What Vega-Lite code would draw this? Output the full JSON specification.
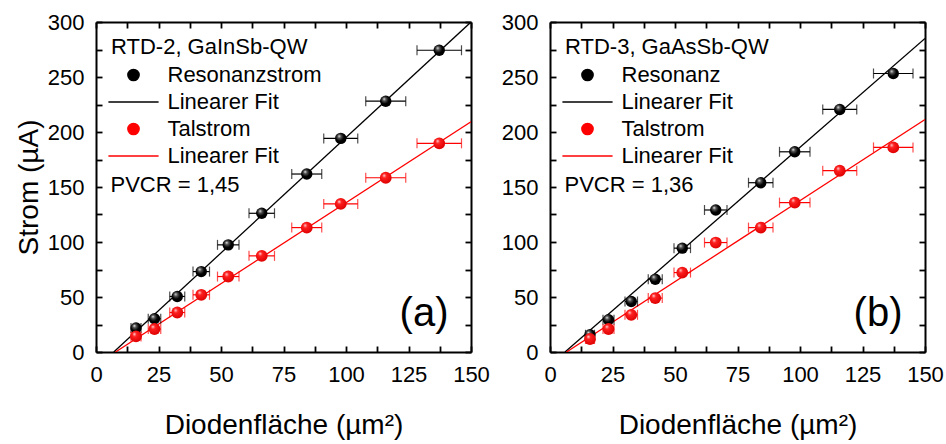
{
  "$schema": "https://vega.github.io/schema/vega-lite/v6.json",
  "padding": {"left": 15, "top": 11, "right": 5, "bottom": 5},
  "config": {
    "font": "Liberation Sans",
    "view": {"stroke": null},
    "axis": {
      "domainColor": "#000000", "domainWidth": 2,
      "tickColor": "#000000", "tickWidth": 1.8, "tickSize": -6,
      "labelFontSize": 22, "labelColor": "#000000",
      "labelFlush": false, "labelOverlap": false,
      "titleFontSize": 28, "titleFontWeight": "normal", "titleColor": "#000000",
      "grid": false
    },
    "axisX": {"labelPadding": 18, "titlePadding": 26},
    "axisY": {"labelPadding": 18, "titlePadding": 4},
    "legend": {
      "titleFontSize": 22, "titleFontWeight": "normal", "titleColor": "#000000", "titleLimit": 400,
      "labelFontSize": 22, "labelColor": "#000000", "labelLimit": 400,
      "padding": 0, "rowPadding": 5, "titlePadding": 5,
      "symbolOffset": 11.5, "labelOffset": 23, "symbolSize": 130
    }
  },
  "datasets": {
    "points": [
      {"panel": "a", "series": "Resonanzstrom", "x": 16.0, "xerr": 2.0, "y": 21.8},
      {"panel": "a", "series": "Resonanzstrom", "x": 23.4, "xerr": 2.5, "y": 30.2},
      {"panel": "a", "series": "Resonanzstrom", "x": 32.5, "xerr": 3.0, "y": 50.5},
      {"panel": "a", "series": "Resonanzstrom", "x": 42.1, "xerr": 3.3, "y": 73.1},
      {"panel": "a", "series": "Resonanzstrom", "x": 52.9, "xerr": 4.3, "y": 97.4},
      {"panel": "a", "series": "Resonanzstrom", "x": 66.3, "xerr": 5.1, "y": 126.1},
      {"panel": "a", "series": "Resonanzstrom", "x": 84.3, "xerr": 6.0, "y": 161.8},
      {"panel": "a", "series": "Resonanzstrom", "x": 97.9, "xerr": 6.8, "y": 194.2},
      {"panel": "a", "series": "Resonanzstrom", "x": 115.9, "xerr": 8.0, "y": 228.0},
      {"panel": "a", "series": "Resonanzstrom", "x": 137.3, "xerr": 8.9, "y": 274.3},
      {"panel": "a", "series": "Talstrom", "x": 16.0, "xerr": 2.0, "y": 14.2},
      {"panel": "a", "series": "Talstrom", "x": 23.4, "xerr": 2.5, "y": 20.9},
      {"panel": "a", "series": "Talstrom", "x": 32.5, "xerr": 3.0, "y": 35.9},
      {"panel": "a", "series": "Talstrom", "x": 42.1, "xerr": 3.3, "y": 52.0},
      {"panel": "a", "series": "Talstrom", "x": 52.9, "xerr": 4.3, "y": 68.6},
      {"panel": "a", "series": "Talstrom", "x": 66.3, "xerr": 5.1, "y": 87.4},
      {"panel": "a", "series": "Talstrom", "x": 84.3, "xerr": 6.0, "y": 113.1},
      {"panel": "a", "series": "Talstrom", "x": 97.9, "xerr": 6.8, "y": 134.6},
      {"panel": "a", "series": "Talstrom", "x": 115.9, "xerr": 8.0, "y": 158.4},
      {"panel": "a", "series": "Talstrom", "x": 137.3, "xerr": 8.9, "y": 189.7},
      {"panel": "b", "series": "Resonanz", "x": 16.0, "xerr": 1.8, "y": 15.7},
      {"panel": "b", "series": "Resonanz", "x": 23.4, "xerr": 2.2, "y": 29.3},
      {"panel": "b", "series": "Resonanz", "x": 32.5, "xerr": 2.5, "y": 45.9},
      {"panel": "b", "series": "Resonanz", "x": 42.1, "xerr": 2.8, "y": 66.2},
      {"panel": "b", "series": "Resonanz", "x": 52.9, "xerr": 3.3, "y": 94.4},
      {"panel": "b", "series": "Resonanz", "x": 66.3, "xerr": 4.5, "y": 129.1},
      {"panel": "b", "series": "Resonanz", "x": 84.3, "xerr": 4.9, "y": 153.9},
      {"panel": "b", "series": "Resonanz", "x": 97.9, "xerr": 6.1, "y": 182.0},
      {"panel": "b", "series": "Resonanz", "x": 115.9, "xerr": 6.8, "y": 220.5},
      {"panel": "b", "series": "Resonanz", "x": 137.3, "xerr": 7.9, "y": 253.2},
      {"panel": "b", "series": "Talstrom", "x": 16.0, "xerr": 1.8, "y": 11.8},
      {"panel": "b", "series": "Talstrom", "x": 23.4, "xerr": 2.2, "y": 20.9},
      {"panel": "b", "series": "Talstrom", "x": 32.5, "xerr": 2.5, "y": 33.8},
      {"panel": "b", "series": "Talstrom", "x": 42.1, "xerr": 2.8, "y": 49.0},
      {"panel": "b", "series": "Talstrom", "x": 52.9, "xerr": 3.3, "y": 72.2},
      {"panel": "b", "series": "Talstrom", "x": 66.3, "xerr": 4.5, "y": 99.5},
      {"panel": "b", "series": "Talstrom", "x": 84.3, "xerr": 4.9, "y": 113.1},
      {"panel": "b", "series": "Talstrom", "x": 97.9, "xerr": 6.1, "y": 135.8},
      {"panel": "b", "series": "Talstrom", "x": 115.9, "xerr": 6.8, "y": 164.8},
      {"panel": "b", "series": "Talstrom", "x": 137.3, "xerr": 7.9, "y": 186.0}
    ],
    "fits": [
      {"panel": "a", "series": "Linearer Fit (Resonanz)", "x": 7.1, "y": 0},
      {"panel": "a", "series": "Linearer Fit (Resonanz)", "x": 150, "y": 300},
      {"panel": "a", "series": "Linearer Fit (Tal)", "x": 7.8, "y": 0},
      {"panel": "a", "series": "Linearer Fit (Tal)", "x": 150, "y": 209.3},
      {"panel": "b", "series": "Linearer Fit (Resonanz)", "x": 6.0, "y": 0},
      {"panel": "b", "series": "Linearer Fit (Resonanz)", "x": 150, "y": 285.0},
      {"panel": "b", "series": "Linearer Fit (Tal)", "x": 6.6, "y": 0},
      {"panel": "b", "series": "Linearer Fit (Tal)", "x": 150, "y": 211.4}
    ]
  },
  "resolve": {"scale": {"color": "independent"}},
  "spacing": 11,
  "hconcat": [
    {
      "width": 375, "height": 330,
      "resolve": {"axis": {"x": "independent", "y": "independent"}},
      "layer": [
        {
          "data": {"name": "fits"},
          "transform": [{"filter": "datum.panel === 'a'"}],
          "mark": {"type": "line", "clip": true, "strokeWidth": 1.3},
          "encoding": {
            "x": {"field": "x", "type": "quantitative", "scale": {"domain": [0, 150], "nice": false},
                  "axis": {"title": "Diodenfläche (µm²)",
                           "values": [0, 12.5, 25, 37.5, 50, 62.5, 75, 87.5, 100, 112.5, 125, 137.5, 150],
                           "labelExpr": "datum.value % 25 === 0 ? datum.label : ''"}},
            "y": {"field": "y", "type": "quantitative", "scale": {"domain": [0, 300], "nice": false},
                  "axis": {"title": "Strom (µA)",
                           "values": [0, 25, 50, 75, 100, 125, 150, 175, 200, 225, 250, 275, 300],
                           "labelExpr": "datum.value % 50 === 0 ? datum.label : ''"}},
            "color": {
              "field": "series", "type": "nominal",
              "scale": {"domain": ["Resonanzstrom", "Linearer Fit (Resonanz)", "Talstrom", "Linearer Fit (Tal)"],
                        "range": ["#000000", "#000000", "#ff0000", "#ff0000"]},
              "legend": {
                "title": "RTD-2, GaInSb-QW", "orient": "none", "legendX": 15, "legendY": 15,
                "labelExpr": "indexof(datum.label, 'Linearer Fit') === 0 ? 'Linearer Fit' : datum.label",
                "encode": {"symbols": {"update": {
                  "shape": {"signal": "indexof(datum.value, 'Linearer Fit') === 0 ? 'M-4.4,0H4.4' : 'circle'"},
                  "size": {"value": 130},
                  "strokeWidth": {"value": 1.3},
                  "fill": [
                    {"test": "indexof(datum.value, 'Linearer Fit') === 0", "value": "transparent"},
                    {"test": "datum.value === 'Talstrom'", "value": {"gradient": "radial", "x1": 0.35, "y1": 0.3, "r1": 0, "x2": 0.45, "y2": 0.42, "r2": 0.6, "stops": [{"offset": 0, "color": "#ffe0e0"}, {"offset": 0.3, "color": "#ff2020"}, {"offset": 1, "color": "#dd0000"}]}},
                    {"value": {"gradient": "radial", "x1": 0.35, "y1": 0.3, "r1": 0, "x2": 0.45, "y2": 0.42, "r2": 0.6, "stops": [{"offset": 0, "color": "#f0f0f0"}, {"offset": 0.25, "color": "#555555"}, {"offset": 0.6, "color": "#000000"}, {"offset": 1, "color": "#000000"}]}}
                  ],
                  "stroke": [
                    {"test": "indexof(datum.value, 'Linearer Fit') !== 0", "value": "transparent"},
                    {"test": "indexof(datum.value, 'Tal') >= 0", "value": "#ff0000"},
                    {"value": "#000000"}
                  ]
                }}}
              }
            }
          }
        },
        {
          "data": {"name": "points"},
          "transform": [{"filter": "datum.panel === 'a'"}],
          "mark": {"type": "errorbar", "ticks": {"size": 10}, "thickness": 1.2},
          "encoding": {
            "x": {"field": "x", "type": "quantitative", "scale": {"domain": [0, 150], "nice": false}, "axis": null},
            "xError": {"field": "xerr"},
            "y": {"field": "y", "type": "quantitative", "scale": {"domain": [0, 300], "nice": false}, "axis": null},
            "color": {"field": "series", "type": "nominal", "legend": null}
          }
        },
        {
          "data": {"name": "points"},
          "transform": [{"filter": "datum.panel === 'a' && datum.series === 'Resonanzstrom'"}],
          "mark": {"type": "point", "filled": true, "size": 130, "opacity": 1,
                   "fill": {"gradient": "radial", "x1": 0.35, "y1": 0.3, "r1": 0, "x2": 0.45, "y2": 0.42, "r2": 0.6, "stops": [{"offset": 0, "color": "#f0f0f0"}, {"offset": 0.25, "color": "#555555"}, {"offset": 0.6, "color": "#000000"}, {"offset": 1, "color": "#000000"}]}},
          "encoding": {
            "x": {"field": "x", "type": "quantitative", "scale": {"domain": [0, 150], "nice": false}, "axis": null},
            "y": {"field": "y", "type": "quantitative", "scale": {"domain": [0, 300], "nice": false}, "axis": null}
          }
        },
        {
          "data": {"name": "points"},
          "transform": [{"filter": "datum.panel === 'a' && datum.series === 'Talstrom'"}],
          "mark": {"type": "point", "filled": true, "size": 140, "opacity": 1,
                   "fill": {"gradient": "radial", "x1": 0.35, "y1": 0.3, "r1": 0, "x2": 0.45, "y2": 0.42, "r2": 0.6, "stops": [{"offset": 0, "color": "#ffe0e0"}, {"offset": 0.3, "color": "#ff2020"}, {"offset": 1, "color": "#dd0000"}]}},
          "encoding": {
            "x": {"field": "x", "type": "quantitative", "scale": {"domain": [0, 150], "nice": false}, "axis": null},
            "y": {"field": "y", "type": "quantitative", "scale": {"domain": [0, 300], "nice": false}, "axis": null}
          }
        },
        {
          "data": {"values": [{}]},
          "mark": {"type": "text", "align": "left", "baseline": "middle", "fontSize": 22, "color": "#000000"},
          "encoding": {
            "x": {"datum": 5.8, "type": "quantitative", "axis": null},
            "y": {"datum": 151.8, "type": "quantitative", "axis": null},
            "text": {"value": "PVCR = 1,45"}
          }
        },
        {
          "data": {"values": [{}]},
          "mark": {"type": "text", "align": "center", "baseline": "alphabetic", "fontSize": 40, "color": "#000000"},
          "encoding": {
            "x": {"datum": 131.2, "type": "quantitative", "axis": null},
            "y": {"datum": 23.9, "type": "quantitative", "axis": null},
            "text": {"value": "(a)"}
          }
        },
        {
          "data": {"name": "points"},
          "transform": [{"filter": "datum.panel === 'a'"}],
          "mark": {"type": "point", "opacity": 0},
          "encoding": {
            "x": {"field": "x", "type": "quantitative", "scale": {"domain": [0, 150], "nice": false},
                  "axis": {"orient": "top", "labels": false, "title": null,
                           "values": [0, 12.5, 25, 37.5, 50, 62.5, 75, 87.5, 100, 112.5, 125, 137.5, 150]}},
            "y": {"field": "y", "type": "quantitative", "scale": {"domain": [0, 300], "nice": false},
                  "axis": {"orient": "right", "labels": false, "title": null,
                           "values": [0, 25, 50, 75, 100, 125, 150, 175, 200, 225, 250, 275, 300]}}
          }
        }
      ]
    },
    {
      "width": 375, "height": 330,
      "resolve": {"axis": {"x": "independent", "y": "independent"}},
      "layer": [
        {
          "data": {"name": "fits"},
          "transform": [{"filter": "datum.panel === 'b'"}],
          "mark": {"type": "line", "clip": true, "strokeWidth": 1.3},
          "encoding": {
            "x": {"field": "x", "type": "quantitative", "scale": {"domain": [0, 150], "nice": false},
                  "axis": {"title": "Diodenfläche (µm²)",
                           "values": [0, 12.5, 25, 37.5, 50, 62.5, 75, 87.5, 100, 112.5, 125, 137.5, 150],
                           "labelExpr": "datum.value % 25 === 0 ? datum.label : ''"}},
            "y": {"field": "y", "type": "quantitative", "scale": {"domain": [0, 300], "nice": false},
                  "axis": {"title": null,
                           "values": [0, 25, 50, 75, 100, 125, 150, 175, 200, 225, 250, 275, 300],
                           "labelExpr": "datum.value % 50 === 0 ? datum.label : ''"}},
            "color": {
              "field": "series", "type": "nominal",
              "scale": {"domain": ["Resonanz", "Linearer Fit (Resonanz)", "Talstrom", "Linearer Fit (Tal)"],
                        "range": ["#000000", "#000000", "#ff0000", "#ff0000"]},
              "legend": {
                "title": "RTD-3, GaAsSb-QW", "orient": "none", "legendX": 15, "legendY": 15,
                "labelExpr": "indexof(datum.label, 'Linearer Fit') === 0 ? 'Linearer Fit' : datum.label",
                "encode": {"symbols": {"update": {
                  "shape": {"signal": "indexof(datum.value, 'Linearer Fit') === 0 ? 'M-4.4,0H4.4' : 'circle'"},
                  "size": {"value": 130},
                  "strokeWidth": {"value": 1.3},
                  "fill": [
                    {"test": "indexof(datum.value, 'Linearer Fit') === 0", "value": "transparent"},
                    {"test": "datum.value === 'Talstrom'", "value": {"gradient": "radial", "x1": 0.35, "y1": 0.3, "r1": 0, "x2": 0.45, "y2": 0.42, "r2": 0.6, "stops": [{"offset": 0, "color": "#ffe0e0"}, {"offset": 0.3, "color": "#ff2020"}, {"offset": 1, "color": "#dd0000"}]}},
                    {"value": {"gradient": "radial", "x1": 0.35, "y1": 0.3, "r1": 0, "x2": 0.45, "y2": 0.42, "r2": 0.6, "stops": [{"offset": 0, "color": "#f0f0f0"}, {"offset": 0.25, "color": "#555555"}, {"offset": 0.6, "color": "#000000"}, {"offset": 1, "color": "#000000"}]}}
                  ],
                  "stroke": [
                    {"test": "indexof(datum.value, 'Linearer Fit') !== 0", "value": "transparent"},
                    {"test": "indexof(datum.value, 'Tal') >= 0", "value": "#ff0000"},
                    {"value": "#000000"}
                  ]
                }}}
              }
            }
          }
        },
        {
          "data": {"name": "points"},
          "transform": [{"filter": "datum.panel === 'b'"}],
          "mark": {"type": "errorbar", "ticks": {"size": 10}, "thickness": 1.2},
          "encoding": {
            "x": {"field": "x", "type": "quantitative", "scale": {"domain": [0, 150], "nice": false}, "axis": null},
            "xError": {"field": "xerr"},
            "y": {"field": "y", "type": "quantitative", "scale": {"domain": [0, 300], "nice": false}, "axis": null},
            "color": {"field": "series", "type": "nominal", "legend": null}
          }
        },
        {
          "data": {"name": "points"},
          "transform": [{"filter": "datum.panel === 'b' && datum.series === 'Resonanz'"}],
          "mark": {"type": "point", "filled": true, "size": 130, "opacity": 1,
                   "fill": {"gradient": "radial", "x1": 0.35, "y1": 0.3, "r1": 0, "x2": 0.45, "y2": 0.42, "r2": 0.6, "stops": [{"offset": 0, "color": "#f0f0f0"}, {"offset": 0.25, "color": "#555555"}, {"offset": 0.6, "color": "#000000"}, {"offset": 1, "color": "#000000"}]}},
          "encoding": {
            "x": {"field": "x", "type": "quantitative", "scale": {"domain": [0, 150], "nice": false}, "axis": null},
            "y": {"field": "y", "type": "quantitative", "scale": {"domain": [0, 300], "nice": false}, "axis": null}
          }
        },
        {
          "data": {"name": "points"},
          "transform": [{"filter": "datum.panel === 'b' && datum.series === 'Talstrom'"}],
          "mark": {"type": "point", "filled": true, "size": 140, "opacity": 1,
                   "fill": {"gradient": "radial", "x1": 0.35, "y1": 0.3, "r1": 0, "x2": 0.45, "y2": 0.42, "r2": 0.6, "stops": [{"offset": 0, "color": "#ffe0e0"}, {"offset": 0.3, "color": "#ff2020"}, {"offset": 1, "color": "#dd0000"}]}},
          "encoding": {
            "x": {"field": "x", "type": "quantitative", "scale": {"domain": [0, 150], "nice": false}, "axis": null},
            "y": {"field": "y", "type": "quantitative", "scale": {"domain": [0, 300], "nice": false}, "axis": null}
          }
        },
        {
          "data": {"values": [{}]},
          "mark": {"type": "text", "align": "left", "baseline": "middle", "fontSize": 22, "color": "#000000"},
          "encoding": {
            "x": {"datum": 5.8, "type": "quantitative", "axis": null},
            "y": {"datum": 151.8, "type": "quantitative", "axis": null},
            "text": {"value": "PVCR = 1,36"}
          }
        },
        {
          "data": {"values": [{}]},
          "mark": {"type": "text", "align": "center", "baseline": "alphabetic", "fontSize": 40, "color": "#000000"},
          "encoding": {
            "x": {"datum": 131.2, "type": "quantitative", "axis": null},
            "y": {"datum": 23.9, "type": "quantitative", "axis": null},
            "text": {"value": "(b)"}
          }
        },
        {
          "data": {"name": "points"},
          "transform": [{"filter": "datum.panel === 'b'"}],
          "mark": {"type": "point", "opacity": 0},
          "encoding": {
            "x": {"field": "x", "type": "quantitative", "scale": {"domain": [0, 150], "nice": false},
                  "axis": {"orient": "top", "labels": false, "title": null,
                           "values": [0, 12.5, 25, 37.5, 50, 62.5, 75, 87.5, 100, 112.5, 125, 137.5, 150]}},
            "y": {"field": "y", "type": "quantitative", "scale": {"domain": [0, 300], "nice": false},
                  "axis": {"orient": "right", "labels": false, "title": null,
                           "values": [0, 25, 50, 75, 100, 125, 150, 175, 200, 225, 250, 275, 300]}}
          }
        }
      ]
    }
  ]
}
